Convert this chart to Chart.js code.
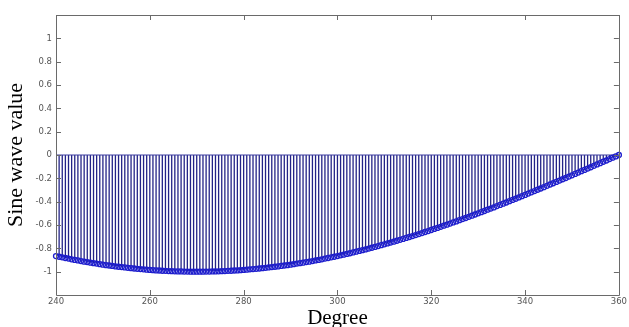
<!DOCTYPE html>
<html>
<head>
<meta charset="utf-8">
<script src="https://cdn.jsdelivr.net/npm/chart.js@4/dist/chart.umd.min.js"></script>
<style>
html,body{margin:0;padding:0;background:#fff;}
#wrap{width:629px;height:327px;}
</style>
</head>
<body>
<div id="wrap"><canvas id="c" width="629" height="327"></canvas></div>
<script>
// Degree range of the stems
const degreeRange = [240, 360];
// Sine wave values read from the stems (240° → 360°, 181 stems)
const sineValues = [
-0.866,-0.872,-0.877,-0.883,-0.888,-0.894,-0.899,-0.904,-0.909,-0.914,-0.918,-0.923,-0.927,-0.931,-0.936,-0.940,-0.944,-0.947,-0.951,-0.955,-0.958,-0.961,-0.964,-0.967,-0.970,-0.973,-0.976,-0.978,-0.980,-0.983,-0.985,-0.987,-0.989,-0.990,-0.992,-0.993,-0.995,-0.996,-0.997,-0.998,-0.998,-0.999,-0.999,-1.000,-1.000,-1.000,
-1.000,-1.000,-0.999,-0.999,-0.998,-0.998,-0.997,-0.996,-0.995,-0.993,-0.992,-0.990,-0.989,-0.987,-0.985,
-0.983,-0.980,-0.978,-0.976,-0.973,-0.970,-0.967,-0.964,-0.961,-0.958,
-0.955,-0.951,-0.947,-0.944,-0.940,-0.936,-0.931,-0.927,-0.923,-0.918,
-0.914,-0.909,-0.904,-0.899,-0.894,-0.888,-0.883,-0.877,-0.872,-0.866,
-0.860,-0.854,-0.848,-0.842,-0.835,-0.829,-0.822,-0.816,-0.809,-0.802,
-0.795,-0.788,-0.781,-0.773,-0.766,-0.758,-0.751,-0.743,-0.735,-0.727,
-0.719,-0.711,-0.703,-0.695,-0.686,-0.678,-0.669,-0.660,-0.652,-0.643,
-0.634,-0.625,-0.616,-0.606,-0.597,-0.588,-0.578,-0.569,-0.559,-0.549,
-0.540,-0.530,-0.520,-0.510,-0.500,-0.490,-0.480,-0.469,-0.459,-0.449,
-0.438,-0.428,-0.417,-0.407,-0.396,-0.385,-0.375,-0.364,-0.353,-0.342,
-0.331,-0.320,-0.309,-0.298,-0.287,-0.276,-0.264,-0.253,-0.242,-0.231,
-0.219,-0.208,-0.197,-0.185,-0.174,-0.162,-0.151,-0.139,-0.128,-0.116,
-0.105,-0.093,-0.081,-0.070,-0.058,-0.047,-0.035,-0.023,-0.012,0
];
const xTicks = [240, 260, 280, 300, 320, 340, 360];
const yTicks = [-1, -0.8, -0.6, -0.4, -0.2, 0, 0.2, 0.4, 0.6, 0.8, 1];
const yTickLabels = ['-1','-0.8','-0.6','-0.4','-0.2','0','0.2','0.4','0.6','0.8','1'];
const yRange = [-1.2, 1.2];
const xTitle = 'Degree';
const yTitle = 'Sine wave value';

const n = sineValues.length;
const step = (degreeRange[1] - degreeRange[0]) / (n - 1);
const points = sineValues.map((v, i) => ({x: degreeRange[0] + i * step, y: v}));

const AXIS = '#6a6a6a';
const boxPlugin = {
  id: 'box',
  afterDraw(chart) {
    const {ctx, chartArea: a, scales: {x, y}} = chart;
    ctx.save();
    ctx.strokeStyle = AXIS;
    ctx.lineWidth = 1;
    ctx.beginPath();
    ctx.rect(Math.round(a.left) + 0.5, Math.round(a.top) + 0.5, Math.round(a.right - a.left), Math.round(a.bottom - a.top));
    ctx.stroke();
    const L = 5;
    ctx.beginPath();
    xTicks.forEach(t => {
      const px = Math.round(x.getPixelForValue(t)) + 0.5;
      ctx.moveTo(px, a.bottom); ctx.lineTo(px, a.bottom - L);
      ctx.moveTo(px, a.top); ctx.lineTo(px, a.top + L);
    });
    yTicks.forEach(t => {
      const py = Math.round(y.getPixelForValue(t)) + 0.5;
      ctx.moveTo(a.left, py); ctx.lineTo(a.left + L, py);
      ctx.moveTo(a.right, py); ctx.lineTo(a.right - L, py);
    });
    ctx.stroke();
    ctx.restore();
  }
};

new Chart(document.getElementById('c'), {
  type: 'bar',
  data: {
    datasets: [
      {
        type: 'line',
        data: points,
        showLine: false,
        pointStyle: 'circle',
        pointRadius: 2.5,
        pointBorderWidth: 1.3,
        pointBorderColor: 'rgb(30,30,205)',
        pointBackgroundColor: 'rgba(0,0,0,0)',
        clip: false,
        order: 0
      },
      {
        type: 'line',
        data: [{x: degreeRange[0], y: 0}, {x: degreeRange[1], y: 0}],
        borderColor: 'rgb(60,60,160)',
        borderWidth: 1,
        pointRadius: 0,
        order: 1
      },
      {
        type: 'bar',
        data: points,
        backgroundColor: 'rgb(35,35,135)',
        borderWidth: 0,
        inflateAmount: 0,
        barThickness: 1.3,
        order: 2
      }
    ]
  },
  options: {
    responsive: false,
    animation: false,
    devicePixelRatio: 1,
    layout: {padding: {left: 0, right: 9, top: 15, bottom: 0}},
    plugins: {legend: {display: false}, tooltip: {enabled: false}},
    scales: {
      x: {
        type: 'linear',
        min: degreeRange[0], max: degreeRange[1],
        offset: false,
        grid: {display: false, drawTicks: false, offset: false},
        border: {display: false},
        afterBuildTicks: s => { s.ticks = xTicks.map(v => ({value: v})); },
        afterFit: s => { s.height = 32; },
        ticks: {
          padding: 2,
          maxRotation: 0,
          autoSkip: false,
          color: '#555',
          font: {family: 'DejaVu Sans', size: 8.5},
          callback: v => String(v)
        },
        title: {
          display: true, text: xTitle, color: '#000',
          font: {family: 'Liberation Serif', size: 21},
          padding: {top: 0, bottom: -3.6}
        }
      },
      y: {
        type: 'linear',
        min: yRange[0], max: yRange[1],
        grid: {display: false, drawTicks: false},
        border: {display: false},
        afterBuildTicks: s => { s.ticks = yTicks.map(v => ({value: v})); },
        afterFit: s => { s.width = 56; },
        ticks: {
          padding: 4,
          autoSkip: false,
          color: '#555',
          font: {family: 'DejaVu Sans', size: 8.5},
          callback: (v) => { const i = yTicks.indexOf(v); return i >= 0 ? yTickLabels[i] : ''; }
        },
        title: {
          display: true, text: yTitle, color: '#000',
          font: {family: 'Liberation Serif', size: 22},
          padding: {top: 3.4, bottom: 0}
        }
      }
    }
  },
  plugins: [boxPlugin]
});
</script>
</body>
</html>
